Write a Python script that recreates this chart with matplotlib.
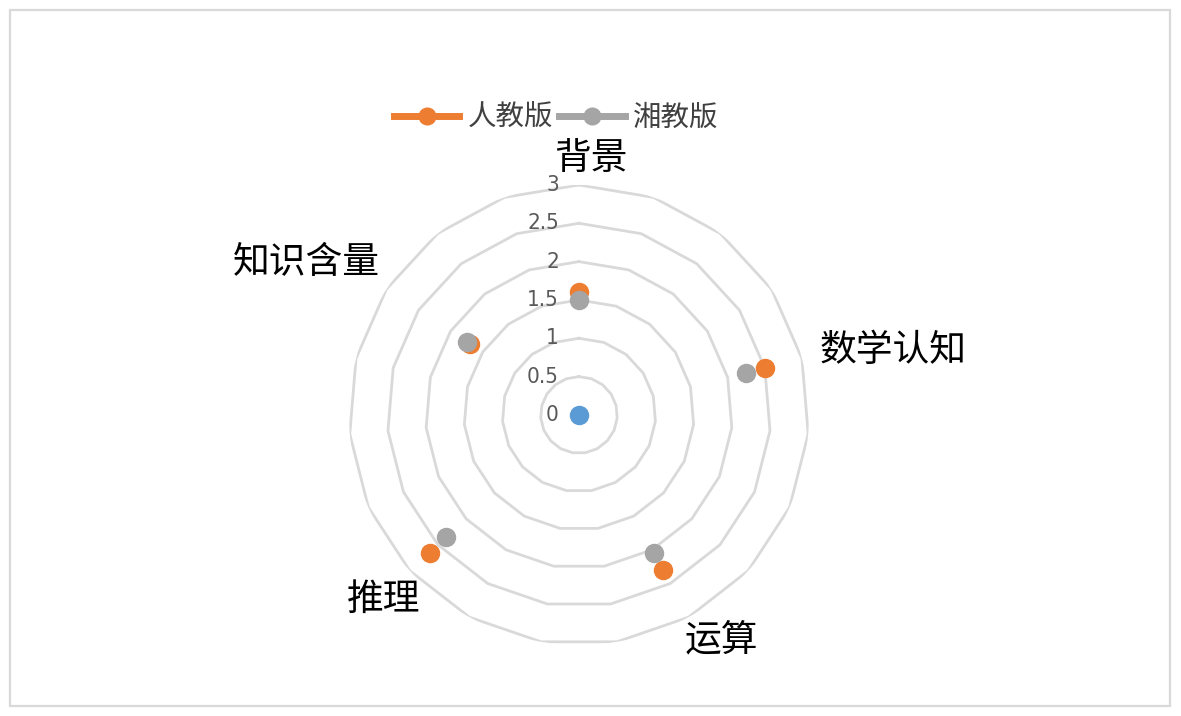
import numpy as np
import matplotlib
matplotlib.use("Agg")
import matplotlib.pyplot as plt
from matplotlib.lines import Line2D
from matplotlib.patches import Rectangle

plt.rcParams['font.family'] = ['Noto Sans CJK SC', 'DejaVu Sans']

# ---- data ----
categories = ['背景', '', '', '', '数学认知', '', '', '', '运算', '', '', '',
              '推理', '', '', '', '知识含量', '', '']
nan = np.nan
renjiao = [1.6, nan, nan, nan, 2.5, nan, nan, nan, 2.3, nan, nan, nan,
           2.65, nan, nan, nan, 1.7, nan, nan]
xiangjiao = [1.5, nan, nan, nan, 2.25, nan, nan, nan, 2.05, nan, nan, nan,
             2.35, nan, nan, nan, 1.75, nan, nan]
series1 = [0] + [nan] * 18
series_names = ['人教版', '湘教版']
rticks = [0, 0.5, 1, 1.5, 2, 2.5, 3]
rtick_labels = ['0', '0.5', '1', '1.5', '2', '2.5', '3']

# ---- style ----
C_ORANGE = '#ED7D31'
C_GRAY = '#A5A5A5'
C_BLUE = '#5B9BD5'
C_GRID = '#D9D9D9'

fig = plt.figure(figsize=(11.81, 7.16), dpi=100)
fig.patch.set_facecolor('white')
fig.add_artist(Rectangle((10 / 1181, 10 / 716), 1160 / 1181, 696 / 716,
                         transform=fig.transFigure, fill=False,
                         edgecolor=C_GRID, lw=1.6))

ax = fig.add_axes([0.2955, 0.0992, 0.3895, 0.6425], projection='polar')
ax.set_theta_zero_location('N')
ax.set_theta_direction(-1)
ax.set_ylim(0, 3)
ax.grid(False)
ax.spines['polar'].set_visible(False)
ax.set_xticks([])
ax.set_yticks([])
ax.patch.set_alpha(0)

N = len(categories)
theta = np.arange(N) * 2 * np.pi / N
closed = np.append(theta, theta[0])
for r in rticks[1:]:
    ax.plot(closed, [r] * (N + 1), color=C_GRID, lw=2.0, zorder=1)

for v, lab in zip(rticks, rtick_labels):
    ax.annotate(lab, xy=(0, v), xytext=(-20, 0), textcoords='offset pixels',
                ha='right', va='center', color='#595959', fontsize=16,
                family='DejaVu Sans', fontstretch='condensed', zorder=2)

ax.plot(theta, series1, 'o', color=C_BLUE, ms=13, ls='none', zorder=3)
ax.plot(theta, renjiao, 'o', color=C_ORANGE, ms=13, ls='none', zorder=3)
ax.plot(theta, xiangjiao, 'o', color=C_GRAY, ms=13, ls='none', zorder=4)

# category labels (offsets in pixels relative to outer ring vertex)
offsets = {0: (12, 27), 4: (91, 8), 8: (33, -23), 12: (-26, -29), 16: (-80, 27)}
for i, lab in enumerate(categories):
    if lab:
        dx, dy = offsets.get(i, (0, 0))
        ax.annotate(lab, xy=(theta[i], 3), xytext=(dx, dy),
                    textcoords='offset pixels', ha='center', va='center',
                    fontsize=26.5, color='#000000', annotation_clip=False)

handles = [Line2D([], [], color=C_ORANGE, lw=5, marker='o', ms=12),
           Line2D([], [], color=C_GRAY, lw=5, marker='o', ms=12)]
fig.legend(handles, series_names, loc='center', bbox_to_anchor=(0.471, 0.835),
           ncol=2, frameon=False, fontsize=20.5, handlelength=2.3,
           handletextpad=0.3, columnspacing=0.2, labelcolor='#404040')

fig.savefig('out.png', dpi=100)
